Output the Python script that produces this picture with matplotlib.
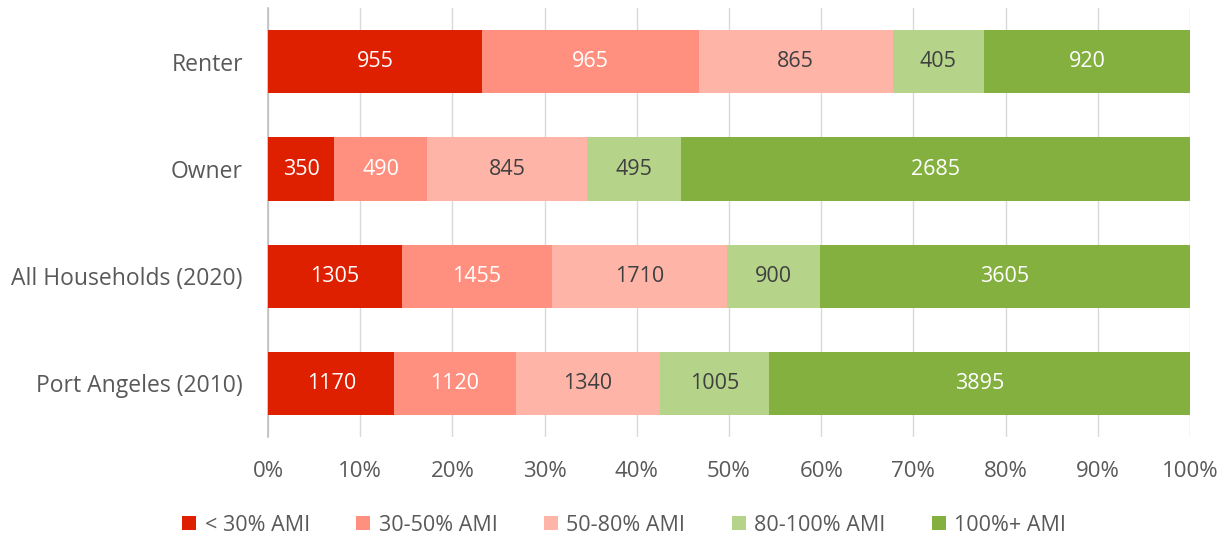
import matplotlib
matplotlib.use("Agg")
import matplotlib.pyplot as plt
import numpy as np

# data (top to bottom in the picture)
categories = ["Renter", "Owner", "All Households (2020)", "Port Angeles (2010)"]
series_names = ["< 30% AMI", "30-50% AMI", "50-80% AMI", "80-100% AMI", "100%+ AMI"]
lt30 = [955, 350, 1305, 1170]
b30_50 = [965, 490, 1455, 1120]
b50_80 = [865, 845, 1710, 1340]
b80_100 = [405, 495, 900, 1005]
gt100 = [920, 2685, 3605, 3895]
tick_labels = ["0%", "10%", "20%", "30%", "40%", "50%", "60%", "70%", "80%", "90%", "100%"]

colors = ["#DF2000", "#FF9080", "#FFB4A8", "#B5D48A", "#84B040"]
label_colors = ["white", "white", "#404040", "#404040", "white"]

plt.rcParams['font.family'] = ['Open Sans', 'DejaVu Sans']

fig, ax = plt.subplots(figsize=(12.31, 5.43), dpi=100)
fig.subplots_adjust(left=0.2177, right=0.9667, top=0.985, bottom=0.195)

series = np.array([lt30, b30_50, b50_80, b80_100, gt100], dtype=float)
totals = series.sum(axis=0)
shares = series / totals
y = np.arange(len(categories))

left = np.zeros(len(categories))
for i, name in enumerate(series_names):
    ax.barh(y, shares[i], left=left, height=0.59, color=colors[i], label=name, zorder=3)
    for j in range(len(categories)):
        ax.text(left[j] + shares[i][j] / 2, y[j], str(int(series[i][j])),
                ha='center', va='center', fontsize=15.5, color=label_colors[i], zorder=4)
    left += shares[i]

ax.set_ylim(len(categories) - 0.5, -0.5)
ax.set_xlim(0, 1)
ax.set_yticks(y)
ax.set_yticklabels(categories, fontsize=16.5, color="#595959")
ax.set_xticks(np.linspace(0, 1, 11))
ax.set_xticklabels(tick_labels, fontsize=16, color="#595959")
ax.tick_params(axis='both', length=0)
ax.tick_params(axis='x', pad=17)
ax.tick_params(axis='y', pad=18)

ax.grid(axis='x', color="#D9D9D9", linewidth=1, zorder=0)
for s in ["top", "right", "bottom"]:
    ax.spines[s].set_visible(False)
ax.spines["left"].set_color("#BFBFBF")
ax.spines["left"].set_linewidth(1.2)

leg = fig.legend(loc='lower center', ncol=5, frameon=False, fontsize=15.5,
                 bbox_to_anchor=(0.507, -0.022), handlelength=0.65, handleheight=0.65,
                 handletextpad=0.4, columnspacing=2.15)
for t in leg.get_texts():
    t.set_color("#595959")

fig.savefig("out.png", dpi=100)
